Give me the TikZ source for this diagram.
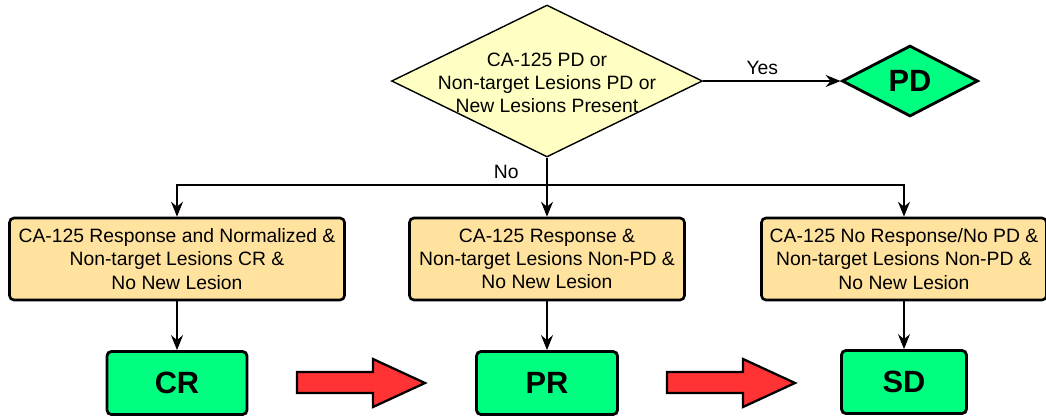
\documentclass[tikz,border=0pt]{standalone}
\usepackage{fontspec}
\setmainfont{Liberation Sans}
\usetikzlibrary{shapes.geometric,arrows.meta}
\definecolor{qyellow}{HTML}{FFFFC4}
\definecolor{boxorange}{HTML}{FFE29E}
\definecolor{resgreen}{HTML}{00FF80}
\definecolor{arrred}{HTML}{FF3333}
\begin{document}
\begin{tikzpicture}[x=0.02cm,y=-0.02cm,
		decision_node/.style={diamond,draw=black,line width=0.8pt,fill=qyellow,minimum width=6.22cm,minimum height=3.04cm,inner sep=0pt},
		end_node/.style={diamond,draw=black,line width=1.6pt,fill=resgreen,minimum width=2.72cm,minimum height=1.32cm,inner sep=1pt,font=\fontsize{17.5}{20}\selectfont\bfseries},
		check_node/.style={rectangle,rounded corners=2.5pt,draw=black,line width=1.5pt,fill=boxorange,minimum height=1.64cm,align=center,inner sep=1pt,font=\fontsize{11}{13.2}\selectfont},
		result_node/.style={rectangle,rounded corners=2.5pt,draw=black,line width=1.6pt,fill=resgreen,minimum height=1.26cm,font=\fontsize{17.5}{20}\selectfont\bfseries},
		conn_line/.style={line width=0.8pt,-{Stealth[length=3mm,width=2.4mm,inset=1mm]}},
		red_arrow/.style={draw=black,line width=1.3pt,fill=arrred,line join=miter}]
		\useasboundingbox (0,0) rectangle (1046,417);

		\node[decision_node] (q) at (547,81) {};
		\node[align=center,font=\fontsize{11}{13.2}\selectfont] (qtext) at (547,83) {CA-125 PD or\\Non-target Lesions PD or\\New Lesions Present};
		\node[end_node] (pd) at (910,81) {PD};

		\node[check_node,minimum width=6.7cm] (b1) at (177,259) {CA-125 Response and Normalized \&\\Non-target Lesions CR \&\\No New Lesion};
		\node[check_node,minimum width=5.5cm] (b2) at (547,259) {CA-125 Response \&\\Non-target Lesions Non-PD \&\\No New Lesion};
		\node[check_node,minimum width=5.7cm] (b3) at (904,259) {CA-125 No Response/No PD \&\\Non-target Lesions Non-PD \&\\No New Lesion};

		\node[result_node,minimum width=2.8cm] (cr) at (177,383) {CR};
		\node[result_node,minimum width=2.82cm] (pr) at (547,383) {PR};
		\node[result_node,minimum width=2.5cm] (sd) at (904,382) {SD};

		\coordinate (split) at (547,185);

		\draw[conn_line] (q.east) -- node[pos=0.43,above,font=\fontsize{11}{13}\selectfont]{Yes} (pd.west);
		\draw[conn_line] (q.south) -- (b2.north);
		\draw[conn_line] (split) -| node[pos=0.055,above,font=\fontsize{11}{13}\selectfont]{No} (b1.north);
		\draw[conn_line] (split) -| (b3.north);

		\draw[conn_line] (b1.south) -- (cr.north);
		\draw[conn_line] (b2.south) -- (pr.north);
		\draw[conn_line] (b3.south) -- (sd.north);

		% big red arrows between results
		\foreach \s in {297,667}
			\draw[red_arrow] (\s,372) -- ++(76,0) -- ++(0,-13) -- ++(52,24) -- ++(-52,24) -- ++(0,-14) -- ++(-76,0) -- cycle;
		\end{tikzpicture}
\end{document}
